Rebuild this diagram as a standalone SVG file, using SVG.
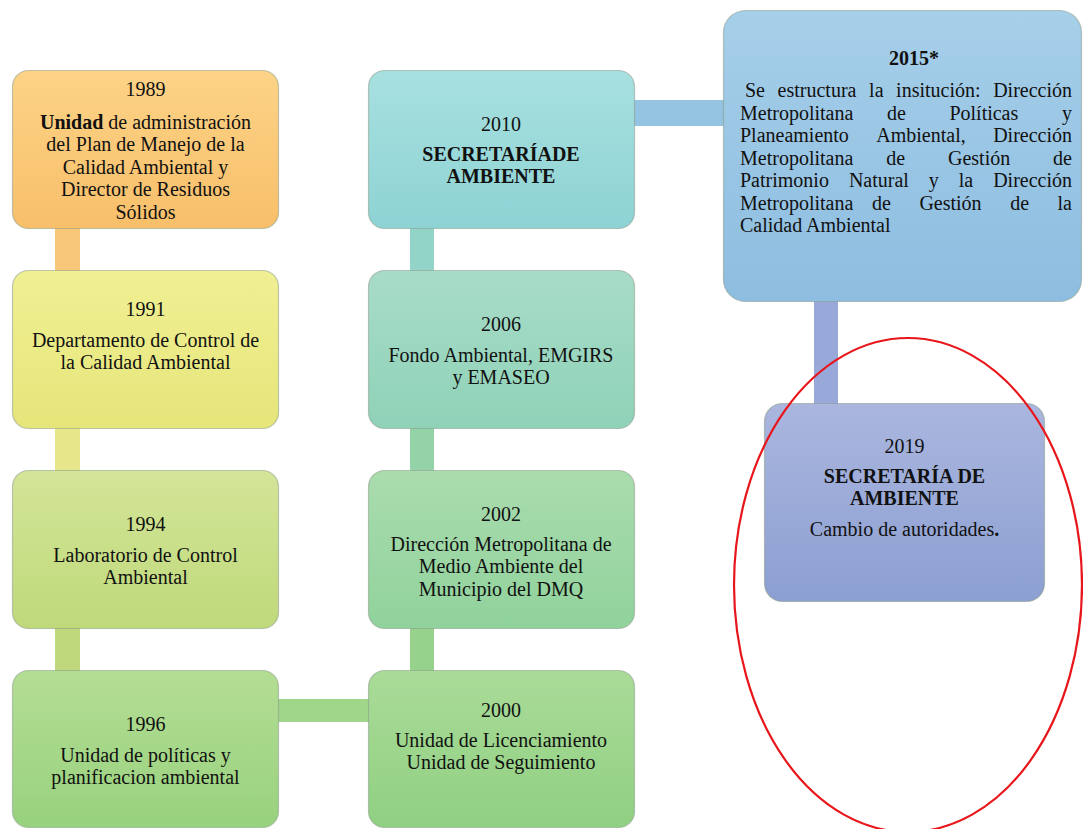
<svg xmlns="http://www.w3.org/2000/svg" width="1083" height="829" viewBox="0 0 1083 829">
  <defs>
    <linearGradient id="gOrange" x1="0" y1="0" x2="0" y2="1"><stop offset="0" stop-color="#fcd387"/><stop offset="1" stop-color="#f8bf6a"/></linearGradient>
    <linearGradient id="gYellow" x1="0" y1="0" x2="0" y2="1"><stop offset="0" stop-color="#f0f094"/><stop offset="1" stop-color="#e6e57a"/></linearGradient>
    <linearGradient id="gLime" x1="0" y1="0" x2="0" y2="1"><stop offset="0" stop-color="#d3e598"/><stop offset="1" stop-color="#bfd97a"/></linearGradient>
    <linearGradient id="gGreen1" x1="0" y1="0" x2="0" y2="1"><stop offset="0" stop-color="#b4dd94"/><stop offset="1" stop-color="#98d27e"/></linearGradient>
    <linearGradient id="gGreen2" x1="0" y1="0" x2="0" y2="1"><stop offset="0" stop-color="#aadb98"/><stop offset="1" stop-color="#90d082"/></linearGradient>
    <linearGradient id="gGreen3" x1="0" y1="0" x2="0" y2="1"><stop offset="0" stop-color="#aadcae"/><stop offset="1" stop-color="#90d29c"/></linearGradient>
    <linearGradient id="gSea" x1="0" y1="0" x2="0" y2="1"><stop offset="0" stop-color="#a8dcc8"/><stop offset="1" stop-color="#8fd2b8"/></linearGradient>
    <linearGradient id="gCyan" x1="0" y1="0" x2="0" y2="1"><stop offset="0" stop-color="#a8e0e0"/><stop offset="1" stop-color="#8ed3d4"/></linearGradient>
    <linearGradient id="gBlue" x1="0" y1="0" x2="0" y2="1"><stop offset="0" stop-color="#a6cfe9"/><stop offset="1" stop-color="#8dbde0"/></linearGradient>
    <linearGradient id="gPeri" x1="0" y1="0" x2="0" y2="1"><stop offset="0" stop-color="#aab6de"/><stop offset="1" stop-color="#8c9fd2"/></linearGradient>
  </defs>
  <style>
    .box { stroke: #8a9a8a; stroke-opacity: 0.55; stroke-width: 1.2; }
    text { font-family: "Liberation Serif", "Times New Roman", serif; font-size: 20px; fill: #111; }
    .c { text-anchor: middle; }
    .e { text-anchor: end; }
    .b { font-weight: bold; }
  </style>

  <!-- connectors -->
  <g id="connectors">
    <rect x="55" y="228" width="25" height="43" fill="#f9c77a"/>
    <rect x="55" y="428" width="25" height="43" fill="#e6e78a"/>
    <rect x="55" y="628" width="25" height="43" fill="#c0d87c"/>
    <rect x="278" y="699" width="91" height="23" fill="#a0d68a"/>
    <rect x="410" y="628" width="24" height="43" fill="#96d28c"/>
    <rect x="410" y="428" width="24" height="43" fill="#94d3a8"/>
    <rect x="410" y="228" width="24" height="43" fill="#92d5c8"/>
    <rect x="634" y="100" width="90" height="26" fill="#94c4e2"/>
    <rect x="814" y="301" width="24" height="103" fill="#98a8d8"/>
  </g>

  <!-- left column -->
  <g id="n1989">
    <rect class="box" x="12.5" y="70.5" width="266" height="158" rx="16" fill="url(#gOrange)"/>
    <text class="c" x="145.5" y="96">1989</text>
    <text class="c" x="145.5" y="128.5"><tspan class="b">Unidad</tspan> de administración</text>
    <text class="c" x="145.5" y="151">del Plan de Manejo de la</text>
    <text class="c" x="145.5" y="173.5">Calidad Ambiental y</text>
    <text class="c" x="145.5" y="196">Director de Residuos</text>
    <text class="c" x="145.5" y="218.5">Sólidos</text>
  </g>
  <g id="n1991">
    <rect class="box" x="12.5" y="270.5" width="266" height="158" rx="16" fill="url(#gYellow)"/>
    <text class="c" x="145.5" y="316">1991</text>
    <text class="c" x="145.5" y="346.5">Departamento de Control de</text>
    <text class="c" x="145.5" y="369">la Calidad Ambiental</text>
  </g>
  <g id="n1994">
    <rect class="box" x="12.5" y="470.5" width="266" height="158" rx="16" fill="url(#gLime)"/>
    <text class="c" x="145.5" y="531">1994</text>
    <text class="c" x="145.5" y="561.5">Laboratorio de Control</text>
    <text class="c" x="145.5" y="584">Ambiental</text>
  </g>
  <g id="n1996">
    <rect class="box" x="12.5" y="670.5" width="266" height="157" rx="16" fill="url(#gGreen1)"/>
    <text class="c" x="145.5" y="731">1996</text>
    <text class="c" x="145.5" y="761.5">Unidad de políticas y</text>
    <text class="c" x="145.5" y="784">planificacion ambiental</text>
  </g>

  <!-- middle column -->
  <g id="n2000">
    <rect class="box" x="368.5" y="670.5" width="266" height="157" rx="16" fill="url(#gGreen2)"/>
    <text class="c" x="501" y="717">2000</text>
    <text class="c" x="501" y="746.5">Unidad de Licenciamiento</text>
    <text class="c" x="501" y="769">Unidad de Seguimiento</text>
  </g>
  <g id="n2002">
    <rect class="box" x="368.5" y="470.5" width="266" height="158" rx="16" fill="url(#gGreen3)"/>
    <text class="c" x="501" y="521">2002</text>
    <text class="c" x="501" y="550.5">Dirección Metropolitana de</text>
    <text class="c" x="501" y="573">Medio Ambiente del</text>
    <text class="c" x="501" y="595.5">Municipio del DMQ</text>
  </g>
  <g id="n2006">
    <rect class="box" x="368.5" y="270.5" width="266" height="158" rx="16" fill="url(#gSea)"/>
    <text class="c" x="501" y="331">2006</text>
    <text class="c" x="501" y="361.5">Fondo Ambiental, EMGIRS</text>
    <text class="c" x="501" y="384">y EMASEO</text>
  </g>
  <g id="n2010">
    <rect class="box" x="368.5" y="70.5" width="266" height="158" rx="16" fill="url(#gCyan)"/>
    <text class="c" x="501" y="131">2010</text>
    <text class="c b" x="501" y="160.5">SECRETARÍADE</text>
    <text class="c b" x="501" y="183">AMBIENTE</text>
  </g>

  <!-- right column -->
  <g id="n2015">
    <rect class="box" x="723.5" y="10.5" width="358" height="291" rx="22" fill="url(#gBlue)"/>
    <text class="c b" x="914" y="65">2015*</text>
    <text y="97"><tspan x="745">Se</tspan><tspan x="777.6">estructura</tspan><tspan x="869.1">la</tspan><tspan x="896.1">insitución:</tspan></text>
    <text class="e" x="1072" y="97">Dirección</text>
    <text y="119.5"><tspan x="740">Metropolitana</tspan><tspan x="886.9">de</tspan><tspan x="949.4">Políticas</tspan></text>
    <text class="e" x="1072" y="119.5">y</text>
    <text y="142"><tspan x="740">Planeamiento</tspan><tspan x="876.3">Ambiental,</tspan></text>
    <text class="e" x="1072" y="142">Dirección</text>
    <text y="164.5"><tspan x="740">Metropolitana</tspan><tspan x="886.2">de</tspan><tspan x="948">Gestión</tspan></text>
    <text class="e" x="1072" y="164.5">de</text>
    <text y="187"><tspan x="740">Patrimonio</tspan><tspan x="848.9">Natural</tspan><tspan x="928.8">y</tspan><tspan x="958.8">la</tspan></text>
    <text class="e" x="1072" y="187">Dirección</text>
    <text y="209.5"><tspan x="740">Metropolitana</tspan><tspan x="871.9">de</tspan><tspan x="919.4">Gestión</tspan><tspan x="1010.2">de</tspan></text>
    <text class="e" x="1072" y="209.5">la</text>
    <text x="740" y="232">Calidad Ambiental</text>
  </g>
  <g id="n2019">
    <rect class="box" x="764.5" y="403.5" width="280" height="198" rx="18" fill="url(#gPeri)"/>
    <text class="c" x="904.5" y="453">2019</text>
    <text class="c b" x="904.5" y="482.5">SECRETARÍA DE</text>
    <text class="c b" x="904.5" y="505">AMBIENTE</text>
    <text class="c" x="904.5" y="535.5">Cambio de autoridades<tspan class="b">.</tspan></text>
  </g>

  <!-- highlight ring -->
  <ellipse cx="908" cy="585" rx="174" ry="247" fill="none" stroke="#e8161b" stroke-width="2.2"/>
</svg>
